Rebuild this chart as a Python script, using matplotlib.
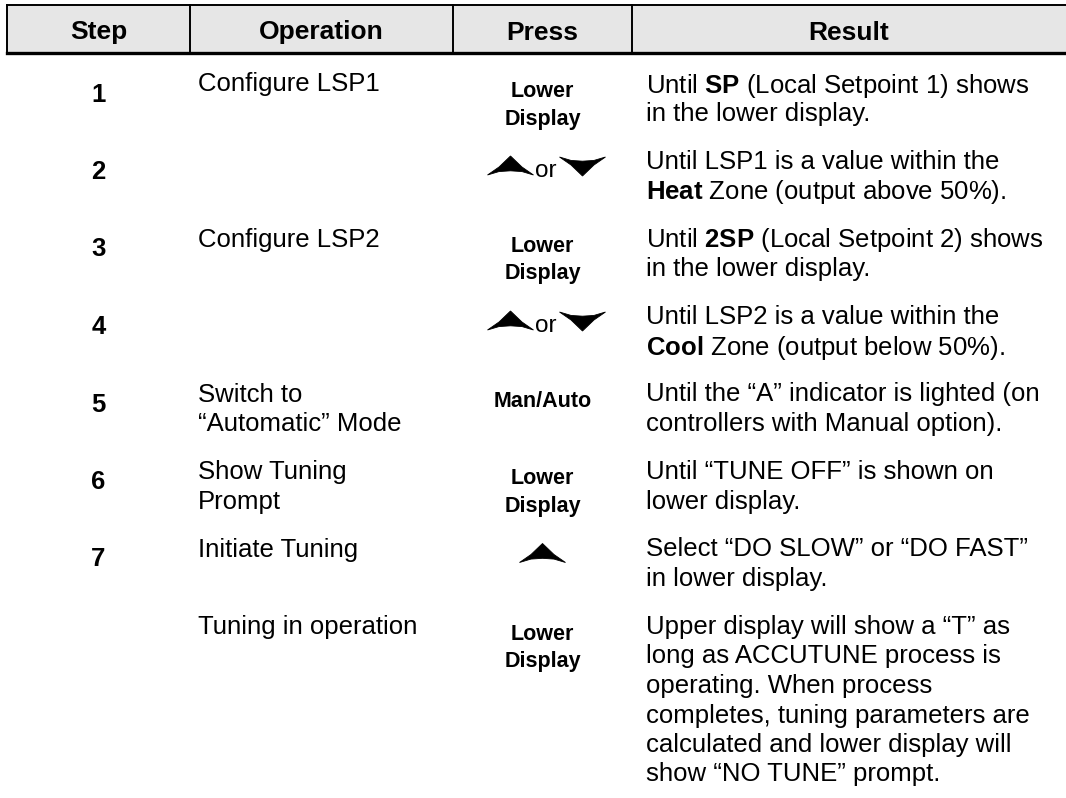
import matplotlib
matplotlib.use("Agg")
import matplotlib.pyplot as plt
from matplotlib.patches import Polygon, Rectangle

plt.rcParams['font.family'] = ['Liberation Sans', 'DejaVu Sans']
plt.rcParams['mathtext.fontset'] = 'custom'
plt.rcParams['mathtext.rm'] = 'Liberation Sans'
plt.rcParams['mathtext.bf'] = 'Liberation Sans:bold'

# table content
headers = ['Step', 'Operation', 'Press', 'Result']
steps = ['1', '2', '3', '4', '5', '6', '7', '']
operations = [
    ['Configure LSP1'],
    [],
    ['Configure LSP2'],
    [],
    ['Switch to', '“Automatic” Mode'],
    ['Show Tuning', 'Prompt'],
    ['Initiate Tuning'],
    ['Tuning in operation'],
]
press = ['Lower\nDisplay', 'updown', 'Lower\nDisplay', 'updown',
         'Man/Auto', 'Lower\nDisplay', 'up', 'Lower\nDisplay']
results = [
    [r'Until $\mathbf{SP}$ (Local Setpoint 1) shows', 'in the lower display.'],
    ['Until LSP1 is a value within the', r'$\mathbf{Heat}$ Zone (output above 50%).'],
    [r'Until $\mathbf{2SP}$ (Local Setpoint 2) shows', 'in the lower display.'],
    ['Until LSP2 is a value within the', r'$\mathbf{Cool}$ Zone (output below 50%).'],
    ['Until the “A” indicator is lighted (on', 'controllers with Manual option).'],
    ['Until “TUNE OFF” is shown on', 'lower display.'],
    ['Select “DO SLOW” or “DO FAST”', 'in lower display.'],
    ['Upper display will show a “T” as', 'long as ACCUTUNE process is',
     'operating. When process', 'completes, tuning parameters are',
     'calculated and lower display will', 'show “NO TUNE” prompt.'],
]

W, H = 1066, 798
fig = plt.figure(figsize=(W / 100, H / 100), dpi=100)
ax = fig.add_axes([0, 0, 1, 1])
ax.set_xlim(0, W)
ax.set_ylim(H, 0)
ax.axis('off')

# layout (pixels)
col_edges = [7, 190, 453, 632, W]
head_top, head_bot = 5, 53
first_row = 82
row_step = 77.5
line_h = 29.5
fs = 18.5
fs_head = 19
fs_press = 15.5

ax.add_patch(Rectangle((col_edges[0], head_top), W - col_edges[0], head_bot - head_top,
                       facecolor='#e6e6e6', edgecolor='none'))
ax.plot([col_edges[0], W], [head_top, head_top], color='black', lw=1.4)
ax.plot([col_edges[0], W], [head_bot, head_bot], color='black', lw=2.4)
for x in col_edges[:-1]:
    ax.plot([x, x], [head_top, head_bot], color='black', lw=1.4)

for i, h in enumerate(headers):
    xc = (col_edges[i] + col_edges[i + 1]) / 2
    ax.text(xc, (head_top + head_bot) / 2 + 1, h, ha='center', va='center_baseline',
            fontsize=fs_head, fontweight='bold')


def arrow(cx, cy, up=True, w=46, h=19):
    pts = [(-w / 2, 0), (-w / 4, 0.42 * h), (0, h), (w / 4, 0.42 * h), (w / 2, 0),
           (w / 4, 0.18 * h), (0, 0.22 * h), (-w / 4, 0.18 * h)]
    s = -1 if up else 1
    xy = [(cx + px, cy + s * (py - h / 2)) for px, py in pts]
    ax.add_patch(Polygon(xy, closed=True, facecolor='black', edgecolor='black', lw=0.6))


px_c = (col_edges[2] + col_edges[3]) / 2
for r in range(len(steps)):
    y0 = first_row + r * row_step
    ax.text((col_edges[0] + col_edges[1]) / 2, y0 + 10, steps[r], ha='center',
            va='center_baseline', fontsize=fs, fontweight='bold')
    for k, line in enumerate(operations[r]):
        ax.text(198, y0 + k * line_h, line, ha='left', va='center_baseline', fontsize=fs)
    for k, line in enumerate(results[r]):
        ax.text(646, y0 + k * line_h, line, ha='left', va='center_baseline', fontsize=fs)
    p = press[r]
    if p == 'updown':
        arrow(px_c - 32, y0 + 6, up=True)
        ax.text(px_c + 3, y0 + 9, 'or', ha='center', va='center_baseline', fontsize=fs - 1)
        arrow(px_c + 40, y0 + 7, up=False)
    elif p == 'up':
        arrow(px_c, y0 + 6, up=True)
    else:
        for k, line in enumerate(p.split('\n')):
            ax.text(px_c, y0 + 7 + k * (line_h - 2), line, ha='center',
                    va='center_baseline', fontsize=fs_press, fontweight='bold')

fig.savefig('out.png', dpi=100)
